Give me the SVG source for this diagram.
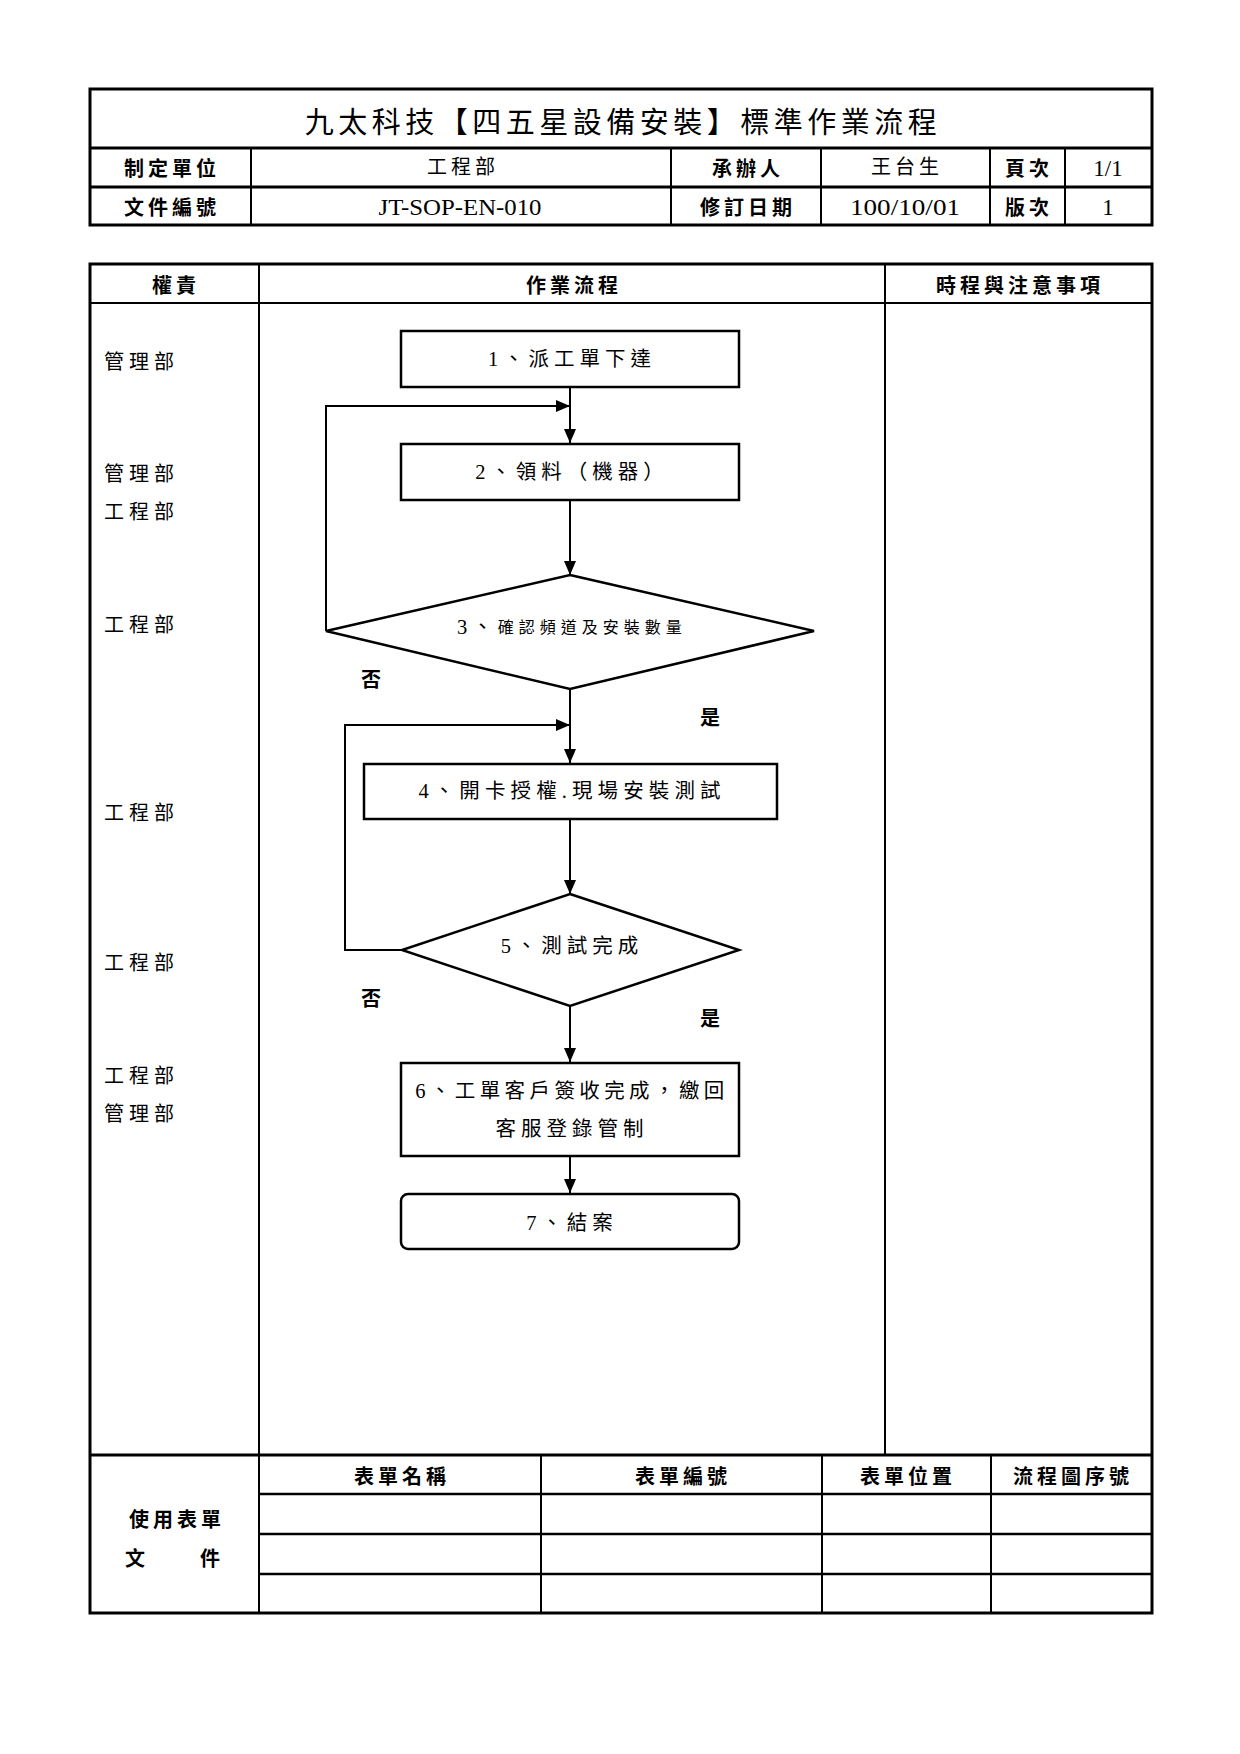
<svg xmlns="http://www.w3.org/2000/svg" width="1240" height="1754" viewBox="0 0 1240 1754">
<style>
.bg{fill:#fff}
.outer{fill:none;stroke:#000;stroke-width:3}
.ln{stroke:#000;stroke-width:2;fill:none}
.node{fill:#fff;stroke:#000;stroke-width:2.5}
.conn{stroke:#000;stroke-width:2;fill:none}
.t{font-family:"Liberation Serif","Noto Sans CJK TC",serif;font-size:20.5px;letter-spacing:5px;fill:#000;text-anchor:middle;dominant-baseline:central}
.b{font-family:"Noto Sans CJK TC",sans-serif;font-weight:bold;font-size:20px;letter-spacing:4px;fill:#000;text-anchor:middle;dominant-baseline:central}
.lab{font-family:"Noto Sans CJK TC",sans-serif;font-size:20px;letter-spacing:5px;fill:#000;dominant-baseline:central}
.title{font-family:"Noto Sans CJK TC",sans-serif;font-size:29px;letter-spacing:4.5px;fill:#000;text-anchor:middle;dominant-baseline:central}
.lat{font-family:"Liberation Serif",serif;font-size:23px;fill:#000;text-anchor:middle;dominant-baseline:central}
</style>
<defs>
<marker id="arr" markerUnits="userSpaceOnUse" markerWidth="14" markerHeight="14" viewBox="0 0 14 14" refX="14" refY="7" orient="auto">
<path d="M0,1 L14,7 L0,13 Z" fill="#000"/>
</marker>
</defs>
<rect class="bg" x="0" y="0" width="1240" height="1754"/>

<g id="header-table">
<rect class="outer" x="90" y="89" width="1062" height="136"/>
<line class="ln" x1="90" y1="148" x2="1152" y2="148" style="stroke-width:3"/>
<line class="ln" x1="90" y1="187" x2="1152" y2="187" style="stroke-width:3"/>
<line class="ln" x1="251" y1="148" x2="251" y2="225"/>
<line class="ln" x1="671" y1="148" x2="671" y2="225"/>
<line class="ln" x1="821" y1="148" x2="821" y2="225"/>
<line class="ln" x1="990" y1="148" x2="990" y2="225"/>
<line class="ln" x1="1065" y1="148" x2="1065" y2="225"/>
<text class="title" x="623" y="120">九太科技【四五星設備安裝】標準作業流程</text>
<text class="b" x="172" y="167">制定單位</text>
<text class="t" x="463" y="167" style="font-size:20px;letter-spacing:4px">工程部</text>
<text class="b" x="748" y="167">承辦人</text>
<text class="t" x="907" y="167" style="font-size:20px;letter-spacing:4px">王台生</text>
<text class="b" x="1029" y="167">頁次</text>
<text class="lat" x="1108" y="168">1/1</text>
<text class="b" x="172" y="206">文件編號</text>
<text class="lat" x="460" y="207" textLength="163" lengthAdjust="spacingAndGlyphs">JT-SOP-EN-010</text>
<text class="b" x="748" y="206">修訂日期</text>
<text class="lat" x="905" y="207" textLength="110" lengthAdjust="spacingAndGlyphs">100/10/01</text>
<text class="b" x="1029" y="206">版次</text>
<text class="lat" x="1108" y="207">1</text>
</g>

<g id="main-table">
<rect class="outer" x="90" y="264" width="1062" height="1349"/>
<line class="ln" x1="90" y1="303" x2="1152" y2="303"/>
<line class="ln" x1="259" y1="264" x2="259" y2="1613"/>
<line class="ln" x1="885" y1="264" x2="885" y2="1455"/>
<line class="ln" x1="90" y1="1455" x2="1152" y2="1455" style="stroke-width:3"/>
<line class="ln" x1="259" y1="1494" x2="1152" y2="1494" style="stroke-width:2.5"/>
<line class="ln" x1="259" y1="1534" x2="1152" y2="1534" style="stroke-width:2.5"/>
<line class="ln" x1="259" y1="1574" x2="1152" y2="1574" style="stroke-width:2.5"/>
<line class="ln" x1="541" y1="1455" x2="541" y2="1613"/>
<line class="ln" x1="822" y1="1455" x2="822" y2="1613"/>
<line class="ln" x1="991" y1="1455" x2="991" y2="1613"/>
<text class="b" x="176" y="284">權責</text>
<text class="b" x="574" y="284">作業流程</text>
<text class="b" x="1020" y="284">時程與注意事項</text>
<text class="b" x="402" y="1475">表單名稱</text>
<text class="b" x="683" y="1475">表單編號</text>
<text class="b" x="908" y="1475">表單位置</text>
<text class="b" x="1073" y="1475">流程圖序號</text>
<text class="b" x="177" y="1518">使用表單</text>
<text class="b" x="137" y="1557">文</text>
<text class="b" x="212" y="1557">件</text>
</g>

<g id="roles">
<text class="lab" x="104" y="360">管理部</text>
<text class="lab" x="104" y="472">管理部</text>
<text class="lab" x="104" y="510">工程部</text>
<text class="lab" x="104" y="623">工程部</text>
<text class="lab" x="104" y="811">工程部</text>
<text class="lab" x="104" y="961">工程部</text>
<text class="lab" x="104" y="1074">工程部</text>
<text class="lab" x="104" y="1112">管理部</text>
</g>

<g id="connectors">
<line class="conn" x1="570" y1="387" x2="570" y2="443" marker-end="url(#arr)"/>
<path class="conn" d="M326,631 V406 H570" marker-end="url(#arr)"/>
<line class="conn" x1="570" y1="500" x2="570" y2="575" marker-end="url(#arr)"/>
<line class="conn" x1="570" y1="689" x2="570" y2="763" marker-end="url(#arr)"/>
<path class="conn" d="M402,950 H345 V725 H570" marker-end="url(#arr)"/>
<line class="conn" x1="570" y1="819" x2="570" y2="894" marker-end="url(#arr)"/>
<line class="conn" x1="570" y1="1006" x2="570" y2="1062" marker-end="url(#arr)"/>
<line class="conn" x1="570" y1="1156" x2="570" y2="1193" marker-end="url(#arr)"/>
<text class="b" x="373" y="678">否</text>
<text class="b" x="712" y="716">是</text>
<text class="b" x="373" y="997">否</text>
<text class="b" x="712" y="1017">是</text>
</g>

<g id="n1">
<rect class="node" x="401" y="331" width="338" height="56"/>
<text class="t" x="572" y="359">1、派工單下達</text>
</g>
<g id="n2">
<rect class="node" x="401" y="444" width="338" height="56"/>
<text class="t" x="572" y="472">2、領料（機器）</text>
</g>
<g id="n3">
<polygon class="node" points="570,575 814,631 570,689 326,631"/>
<text class="t" x="572" y="627"><tspan>3、</tspan><tspan style="font-size:16px;letter-spacing:5px">確認頻道及安裝數量</tspan></text>
</g>
<g id="n4">
<rect class="node" x="364" y="764" width="413" height="55"/>
<text class="t" x="572" y="791" style="letter-spacing:5.1px">4、開卡授權.現場安裝測試</text>
</g>
<g id="n5">
<polygon class="node" points="570,894 739,950 570,1006 402,950"/>
<text class="t" x="572" y="946">5、測試完成</text>
</g>
<g id="n6">
<rect class="node" x="401" y="1063" width="338" height="93"/>
<text class="t" x="572" y="1091" style="letter-spacing:4.4px">6、工單客戶簽收完成，繳回</text>
<text class="t" x="572" y="1129">客服登錄管制</text>
</g>
<g id="n7">
<rect class="node" x="401" y="1194" width="338" height="55" rx="7" ry="7"/>
<text class="t" x="572" y="1223">7、結案</text>
</g>
</svg>
